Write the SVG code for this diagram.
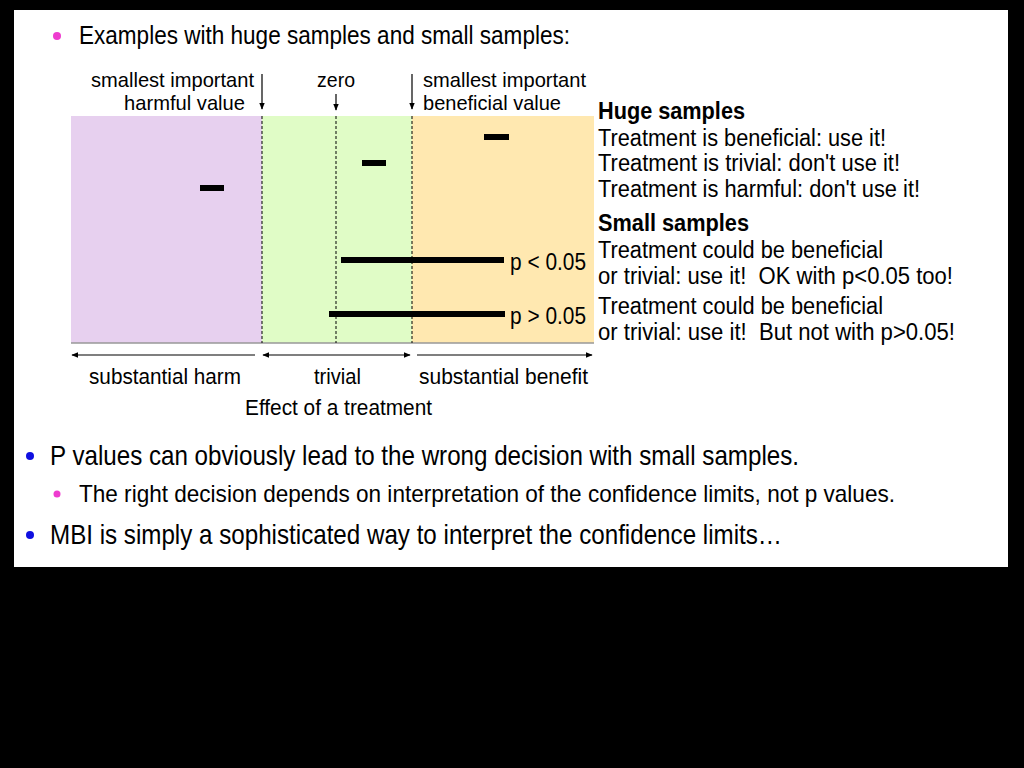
<svg xmlns="http://www.w3.org/2000/svg" width="1024" height="768" viewBox="0 0 1024 768">
<defs>
<style>
text{font-family:"Liberation Sans Narrow","Liberation Sans",Arial,sans-serif;fill:#000}
.t21{font-size:21px}
.t22{font-size:22px}
.t23{font-size:23.5px}
.t24{font-size:24px}
.t25{font-size:25px}
.t28{font-size:28px}
.b{font-weight:bold}
.dash{stroke:#000;stroke-width:1;stroke-dasharray:3,2;fill:none}
.bar{stroke:#000;stroke-width:6;fill:none}
.ax{stroke:#000;stroke-width:1.2;fill:none}
</style>
<marker id="ah" viewBox="0 0 10 10" refX="9" refY="5" markerWidth="7" markerHeight="7" orient="auto-start-reverse" markerUnits="userSpaceOnUse">
<path d="M0,1 L10,5 L0,9 z" fill="#000"/>
</marker>
</defs>
<rect x="0" y="0" width="1024" height="768" fill="#000"/>
<rect x="14" y="10" width="994" height="557" fill="#fff"/>

<g id="title">
<circle cx="57" cy="36" r="4" fill="#ee3ccf"/>
<text class="t25" x="79" y="44" textLength="491" lengthAdjust="spacingAndGlyphs">Examples with huge samples and small samples:</text>
</g>

<g id="regions">
<rect x="71" y="116" width="191" height="227" fill="#e7d0ef"/>
<rect x="262" y="116" width="150" height="227" fill="#e0fcc6"/>
<rect x="412" y="116" width="182" height="227" fill="#ffe8b0"/>
<line x1="71" y1="343" x2="594" y2="343" stroke="#999" stroke-width="1.5"/>
<line class="dash" x1="262" y1="116" x2="262" y2="343"/>
<line class="dash" x1="336" y1="116" x2="336" y2="343"/>
<line class="dash" x1="412" y1="116" x2="412" y2="343"/>
</g>

<g id="top-labels">
<text class="t21" x="254" y="87" text-anchor="end" textLength="163" lengthAdjust="spacingAndGlyphs">smallest important</text>
<text class="t21" x="245" y="110" text-anchor="end" textLength="121" lengthAdjust="spacingAndGlyphs">harmful value</text>
<text class="t21" x="336" y="87" text-anchor="middle" textLength="38" lengthAdjust="spacingAndGlyphs">zero</text>
<text class="t21" x="423" y="87" textLength="163" lengthAdjust="spacingAndGlyphs">smallest important</text>
<text class="t21" x="423" y="110" textLength="138" lengthAdjust="spacingAndGlyphs">beneficial value</text>
</g>

<g id="connectors">
<line class="ax" x1="262" y1="74" x2="262" y2="109" marker-end="url(#ah)"/>
<line class="ax" x1="336" y1="94" x2="336" y2="110" marker-end="url(#ah)"/>
<line class="ax" x1="412" y1="74" x2="412" y2="109" marker-end="url(#ah)"/>
<line class="ax" x1="255" y1="355" x2="72" y2="355" marker-end="url(#ah)"/>
<line class="ax" x1="263" y1="355" x2="410" y2="355" marker-start="url(#ah)" marker-end="url(#ah)"/>
<line class="ax" x1="417" y1="355" x2="592" y2="355" marker-end="url(#ah)"/>
</g>

<g id="estimates">
<line class="bar" x1="200" y1="188" x2="224" y2="188"/>
<line class="bar" x1="362" y1="163" x2="386" y2="163"/>
<line class="bar" x1="484" y1="137" x2="509" y2="137"/>
<line class="bar" x1="341" y1="260" x2="504" y2="260"/>
<line class="bar" x1="329" y1="314" x2="505" y2="314"/>
<text class="t23" x="510" y="270" textLength="76" lengthAdjust="spacingAndGlyphs">p &lt; 0.05</text>
<text class="t23" x="510" y="324" textLength="76" lengthAdjust="spacingAndGlyphs">p &gt; 0.05</text>
</g>

<g id="axis-labels">
<text class="t22" x="89" y="384" textLength="152" lengthAdjust="spacingAndGlyphs">substantial harm</text>
<text class="t22" x="314" y="384" textLength="47" lengthAdjust="spacingAndGlyphs">trivial</text>
<text class="t22" x="419" y="384" textLength="169" lengthAdjust="spacingAndGlyphs">substantial benefit</text>
<text class="t22" x="245" y="415" textLength="187" lengthAdjust="spacingAndGlyphs">Effect of a treatment</text>
</g>

<g id="interpretation">
<text class="t23 b" x="598" y="119" textLength="147" lengthAdjust="spacingAndGlyphs">Huge samples</text>
<text class="t23" x="598" y="146" textLength="288" lengthAdjust="spacingAndGlyphs">Treatment is beneficial: use it!</text>
<text class="t23" x="598" y="171" textLength="302" lengthAdjust="spacingAndGlyphs">Treatment is trivial: don't use it!</text>
<text class="t23" x="598" y="197" textLength="322" lengthAdjust="spacingAndGlyphs">Treatment is harmful: don't use it!</text>
<text class="t23 b" x="598" y="231" textLength="151" lengthAdjust="spacingAndGlyphs">Small samples</text>
<text class="t23" x="598" y="258" textLength="285" lengthAdjust="spacingAndGlyphs">Treatment could be beneficial</text>
<text class="t23" x="598" y="284" textLength="355" lengthAdjust="spacingAndGlyphs" xml:space="preserve">or trivial: use it!  OK with p&lt;0.05 too!</text>
<text class="t23" x="598" y="314" textLength="285" lengthAdjust="spacingAndGlyphs">Treatment could be beneficial</text>
<text class="t23" x="598" y="340" textLength="357" lengthAdjust="spacingAndGlyphs" xml:space="preserve">or trivial: use it!  But not with p&gt;0.05!</text>
</g>

<g id="bullets">
<circle cx="30" cy="456" r="4" fill="#1010e0"/>
<text class="t28" x="50" y="465" textLength="749" lengthAdjust="spacingAndGlyphs">P values can obviously lead to the wrong decision with small samples.</text>
<circle cx="57" cy="494" r="3.5" fill="#ee3ccf"/>
<text class="t24" x="79" y="502" textLength="816" lengthAdjust="spacingAndGlyphs">The right decision depends on interpretation of the confidence limits, not p values.</text>
<circle cx="30" cy="535" r="4" fill="#1010e0"/>
<text class="t28" x="50" y="544" textLength="732" lengthAdjust="spacingAndGlyphs">MBI is simply a sophisticated way to interpret the confidence limits…</text>
</g>
</svg>
